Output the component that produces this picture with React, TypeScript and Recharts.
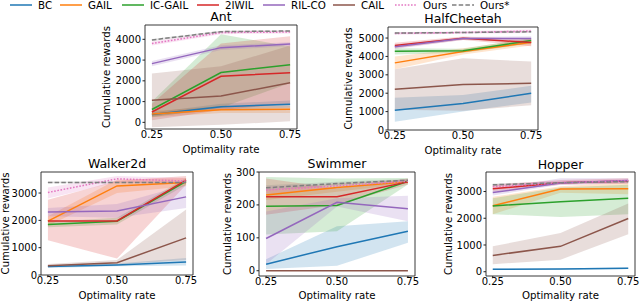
import { ComposedChart, Line, Area, XAxis, YAxis, ReferenceArea } from "recharts";

const RATES = [0.25, 0.5, 0.75];
const SERIES = ["BC", "GAIL", "IC-GAIL", "2IWIL", "RIL-CO", "CAIL", "Ours", "Ours*"];
const COLORS = ["#1f77b4", "#ff7f0e", "#2ca02c", "#d62728", "#9467bd", "#8c564b", "#e377c2", "#7f7f7f"];
const DASHES = [undefined, undefined, undefined, undefined, undefined, undefined, "1.6 1.6", "4.5 2.2"];
const FONT = "DejaVu Sans, sans-serif";

// rows follow SERIES order, columns follow RATES
const antMean = [
  [380, 750, 870], [400, 610, 630], [620, 2400, 2780], [500, 2220, 2390],
  [2830, 3600, 3770], [1070, 1270, 1910], [3800, 4330, 4350], [3970, 4370, 4400],
];
const antLow = [
  [300, 620, 700], [250, 450, 450], [250, 700, 1900], [100, 600, 900],
  [2700, 3480, 3680], [-230, -120, 50], [3700, 4250, 4280], [3920, 4330, 4370],
];
const antHigh = [
  [470, 900, 1050], [550, 780, 800], [1000, 4250, 3650], [900, 3800, 4150],
  [2960, 3720, 3860], [2350, 2700, 3700], [3900, 4400, 4420], [4020, 4410, 4430],
];

const cheetahMean = [
  [1070, 1440, 2000], [3650, 4270, 4770], [4280, 4310, 4860], [4600, 4990, 4760],
  [4520, 4980, 4980], [2210, 2470, 2540], [5250, 5300, 5380], [5270, 5300, 5340],
];
const cheetahLow = [
  [450, 1000, 1500], [3300, 4100, 4600], [4100, 4200, 4700], [4450, 4900, 4550],
  [4400, 4900, 4850], [1100, 1050, 1350], [5180, 5230, 5280], [5230, 5270, 5300],
];
const cheetahHigh = [
  [1750, 1900, 2400], [4000, 4450, 4950], [4450, 4420, 5000], [4750, 5080, 4950],
  [4650, 5060, 5100], [3300, 3900, 3720], [5320, 5370, 5470], [5310, 5330, 5380],
];

const walkerMean = [
  [310, 370, 480], [1970, 3260, 3390], [1850, 1970, 3430], [1980, 1980, 3470],
  [2310, 2340, 2860], [340, 450, 1360], [3020, 3520, 3440], [3390, 3390, 3390],
];
const walkerLow = [
  [260, 320, 350], [1800, 3000, 3250], [1750, 1850, 3300], [1270, 600, 3300],
  [2150, 2100, 2450], [280, 380, 550], [2800, 3400, 3350], [3360, 3360, 3360],
];
const walkerHigh = [
  [360, 420, 620], [2150, 3500, 3550], [1950, 2100, 3550], [2750, 3450, 3620],
  [2450, 2600, 3300], [400, 550, 2400], [3200, 3620, 3550], [3420, 3420, 3420],
];

const swimmerMean = [
  [20, 73, 120], [230, 253, 270], [196, 198, 272], [225, 225, 270],
  [98, 208, 188], [0, 0, 0], [245, 258, 272], [252, 265, 275],
];
const swimmerLow = [
  [5, 15, 85], [215, 240, 265], [110, 120, 262], [170, 200, 262],
  [20, 195, 150], [0, 0, 0], [235, 250, 268], [245, 260, 272],
];
const swimmerHigh = [
  [35, 135, 150], [245, 265, 276], [285, 280, 282], [280, 250, 280],
  [180, 220, 228], [0, 0, 0], [255, 266, 277], [260, 270, 279],
];

const hopperMean = [
  [90, 100, 130], [2470, 3090, 3100], [2460, 2620, 2750], [3100, 3330, 3390],
  [2960, 3320, 3410], [610, 950, 1990], [3180, 3330, 3400], [3250, 3330, 3370],
];
const hopperLow = [
  [60, 70, 100], [2150, 2950, 2900], [2150, 2050, 2150], [3000, 3250, 3300],
  [2850, 3250, 3300], [280, 450, 1400], [3100, 3280, 3330], [3200, 3300, 3330],
];
const hopperHigh = [
  [120, 130, 160], [2800, 3200, 3350], [2750, 3150, 3250], [3250, 3430, 3500],
  [3100, 3500, 3500], [950, 1450, 2550], [3270, 3400, 3450], [3300, 3370, 3420],
];

const ENVS = [
  { name: "Ant", mean: antMean, low: antLow, high: antHigh, yDomain: [-320, 4690], yTicks: [0, 1000, 2000, 3000, 4000], frame: [145, 25, 297, 129], titleY: 21, xlabelY: 153, ylabelX: 106 },
  { name: "HalfCheetah", mean: cheetahMean, low: cheetahLow, high: cheetahHigh, yDomain: [0, 5600], yTicks: [0, 1000, 2000, 3000, 4000, 5000], frame: [388, 27, 538, 130], titleY: 23, xlabelY: 154, ylabelX: 348 },
  { name: "Walker2d", mean: walkerMean, low: walkerLow, high: walkerHigh, yDomain: [0, 3770], yTicks: [0, 1000, 2000, 3000], frame: [41, 172, 193, 275], titleY: 168, xlabelY: 299, ylabelX: 5 },
  { name: "Swimmer", mean: swimmerMean, low: swimmerLow, high: swimmerHigh, yDomain: [-16, 300], yTicks: [0, 100, 200, 300], frame: [259, 172, 415, 276], titleY: 168, xlabelY: 299, ylabelX: 227 },
  { name: "Hopper", mean: hopperMean, low: hopperLow, high: hopperHigh, yDomain: [-160, 3730], yTicks: [0, 1000, 2000, 3000], frame: [486, 172, 635, 276], titleY: 169, xlabelY: 299, ylabelX: 448 },
];

const LEGEND_X = [10, 60, 122, 197, 263, 333, 395, 452];

function Panel({ env }: { env: any }) {
  const rows = RATES.map((x, i) => {
    const r: any = { x };
    SERIES.forEach((_, s) => {
      r["m" + s] = env.mean[s][i];
      r["b" + s] = [env.low[s][i], env.high[s][i]];
    });
    return r;
  });
  const [L, T, R, B] = env.frame;
  const tick = { fontSize: 10, fill: "#000", fontFamily: FONT };
  return (
    <div style={{ position: "absolute", left: 0, top: 0 }}>
      <ComposedChart
        width={640}
        height={302}
        data={rows}
        margin={{ left: L - 40, top: T, right: 640 - R, bottom: 302 - B - 20 }}
      >
        <XAxis
          type="number"
          dataKey="x"
          domain={[0.225, 0.775]}
          ticks={RATES}
          interval={0}
          allowDataOverflow
          tickFormatter={(v: number) => v.toFixed(2)}
          height={20}
          tickSize={2}
          tickMargin={0}
          axisLine={false}
          stroke="#222"
          tick={tick}
        />
        <YAxis
          type="number"
          domain={env.yDomain}
          ticks={env.yTicks}
          interval={0}
          allowDataOverflow
          width={40}
          tickSize={2.5}
          tickMargin={1.5}
          axisLine={false}
          stroke="#222"
          tick={tick}
        />
        {SERIES.map((s, i) => (
          <Area
            key={"b" + s}
            dataKey={"b" + i}
            type="linear"
            stroke="none"
            fill={COLORS[i]}
            fillOpacity={0.2}
            dot={false}
            activeDot={false}
            isAnimationActive={false}
          />
        ))}
        {SERIES.map((s, i) => (
          <Line
            key={"m" + s}
            dataKey={"m" + i}
            type="linear"
            stroke={COLORS[i]}
            strokeWidth={1.5}
            strokeDasharray={DASHES[i]}
            dot={false}
            activeDot={false}
            isAnimationActive={false}
          />
        ))}
        <ReferenceArea
          x1={0.225}
          x2={0.775}
          y1={env.yDomain[0]}
          y2={env.yDomain[1]}
          fill="none"
          stroke="#222"
          strokeWidth={0.9}
        />
      </ComposedChart>
    </div>
  );
}

export default function App() {
  return (
    <div style={{ position: "absolute", left: 0, top: 0, width: 640, height: 302, background: "#fff", overflow: "hidden" }}>
      {ENVS.map((e) => (
        <Panel key={e.name} env={e} />
      ))}
      <svg width={640} height={302} style={{ position: "absolute", left: 0, top: 0, pointerEvents: "none" }} fontFamily={FONT}>
        {SERIES.map((s, i) => (
          <g key={s}>
            <line
              x1={LEGEND_X[i]}
              x2={LEGEND_X[i] + 22}
              y1={5}
              y2={5}
              stroke={COLORS[i]}
              strokeWidth={1.5}
              strokeDasharray={DASHES[i]}
            />
            <text x={LEGEND_X[i] + 28} y={9} fontSize={10.3} fill="#000">
              {s}
            </text>
          </g>
        ))}
        {ENVS.map((e) => {
          const [L, T, R, B] = e.frame;
          const cx = (L + R) / 2;
          const cy = (T + B) / 2;
          return (
            <g key={e.name}>
              <text x={cx} y={e.titleY} fontSize={12.5} textAnchor="middle" fill="#000">
                {e.name}
              </text>
              <text x={cx} y={e.xlabelY} fontSize={10.2} textAnchor="middle" fill="#000">
                Optimality rate
              </text>
              <text
                x={e.ylabelX}
                y={cy}
                fontSize={10.2}
                textAnchor="middle"
                dominantBaseline="central"
                fill="#000"
                transform={`rotate(-90 ${e.ylabelX} ${cy})`}
              >
                Cumulative rewards
              </text>
            </g>
          );
        })}
      </svg>
    </div>
  );
}
